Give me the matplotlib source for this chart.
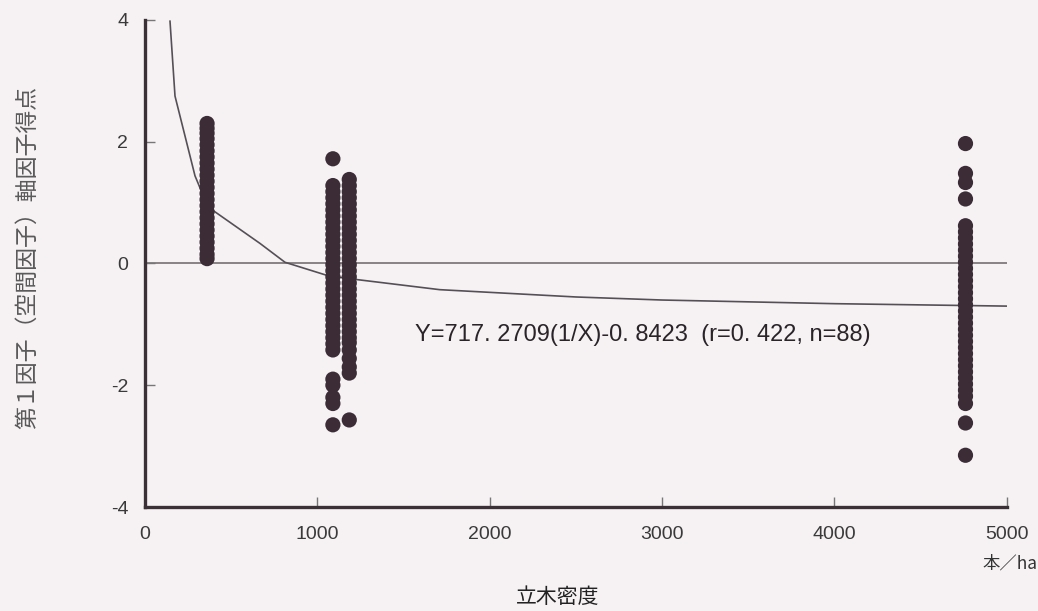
import matplotlib
matplotlib.use("Agg")
import matplotlib.pyplot as plt

plt.rcParams["font.family"] = ["Noto Sans CJK JP", "DejaVu Sans"]
plt.rcParams["axes.unicode_minus"] = False

# stand density (trees/ha) of each stand and factor scores of its points
x_a = 360
y_a = [2.30, 2.22, 2.14, 2.05, 1.95, 1.85, 1.75, 1.65, 1.55, 1.45, 1.35, 1.25,
       1.15, 1.05, 0.95, 0.85, 0.75, 0.65, 0.55, 0.45, 0.35, 0.25, 0.15, 0.08]
x_b = 1090
y_b = [1.72, 1.28, 1.18, 1.08, 0.98, 0.88, 0.78, 0.68, 0.58, 0.48, 0.38, 0.28,
       0.18, 0.08, -0.02, -0.12, -0.22, -0.32, -0.42, -0.52, -0.62, -0.72,
       -0.82, -0.92, -1.02, -1.12, -1.22, -1.32, -1.42, -1.9, -2.0, -2.2,
       -2.3, -2.65]
x_c = 1185
y_c = [1.38, 1.28, 1.18, 1.08, 0.98, 0.88, 0.78, 0.68, 0.58, 0.48, 0.38, 0.28,
       0.18, 0.08, -0.02, -0.12, -0.22, -0.32, -0.42, -0.52, -0.62, -0.72,
       -0.82, -0.92, -1.02, -1.12, -1.22, -1.3, -1.42, -1.56, -1.7, -1.8,
       -2.57]
x_d = 4760
y_d = [1.97, 1.48, 1.33, 1.06, 0.62, 0.52, 0.42, 0.32, 0.22, 0.12, 0.02,
       -0.08, -0.18, -0.28, -0.38, -0.48, -0.58, -0.68, -0.78, -0.88, -0.98,
       -1.08, -1.18, -1.28, -1.38, -1.48, -1.58, -1.68, -1.78, -1.88, -1.98,
       -2.08, -2.18, -2.3, -2.62, -3.15]

# fitted curve as drawn
fit_x = [145, 174, 290, 365, 667, 812, 1061, 1217, 1710, 2500, 3000, 4000, 5000]
fit_y = [3.98, 2.75, 1.44, 0.93, 0.33, 0.02, -0.2, -0.26, -0.43, -0.55, -0.60,
         -0.66, -0.70]

eq_text = "Y=717. 2709(1/X)-0. 8423  (r=0. 422, n=88)"

bg = "#f6f2f4"
dot = "#3b2c36"
ink = "#3a3035"
narrow = ["Liberation Sans Narrow", "Liberation Sans", "DejaVu Sans"]

fig = plt.figure(figsize=(10.38, 6.11), dpi=100, facecolor=bg)
ax = fig.add_axes([0.1397, 0.1702, 0.8303, 0.7971], facecolor=bg)

ax.axhline(0, color="#777072", lw=1.2, zorder=1)
ax.plot(fit_x, fit_y, color="#555055", lw=1.2, zorder=2)
for xv, ys in [(x_a, y_a), (x_b, y_b), (x_c, y_c), (x_d, y_d)]:
    ax.scatter([xv] * len(ys), ys, s=120, color=dot, edgecolors="none", zorder=3)

ax.text(1565, -1.18, eq_text, fontsize=17, color="#2a2428", va="center",
        family=narrow)

ax.set_xlim(0, 5000)
ax.set_ylim(-4, 4)
ax.set_xticks([0, 1000, 2000, 3000, 4000, 5000])
ax.set_yticks([-4, -2, 0, 2, 4])
for s in ["top", "right"]:
    ax.spines[s].set_visible(False)
for s in ["left", "bottom"]:
    ax.spines[s].set_linewidth(2.4)
    ax.spines[s].set_color(ink)
ax.tick_params(axis="both", direction="in", length=7, width=1, color="#777",
               labelsize=14, labelcolor="#3a3a3a")
ax.tick_params(axis="x", pad=14)
ax.tick_params(axis="y", pad=12)
for lab in ax.get_xticklabels() + ax.get_yticklabels():
    lab.set_family(narrow)

fig.text(0.027, 0.579, "第１因子（空間因子）軸因子得点", fontsize=16.5,
         color="#5a5a5a", rotation=90, ha="center", va="center")
fig.text(0.537, 0.023, "立木密度", fontsize=15, color="#222", ha="center",
         va="center")
fig.text(0.9995, 0.077, "本／ha", fontsize=12.5, color="#333", ha="right",
         va="center")

fig.savefig("out.png", dpi=100, facecolor=bg)
